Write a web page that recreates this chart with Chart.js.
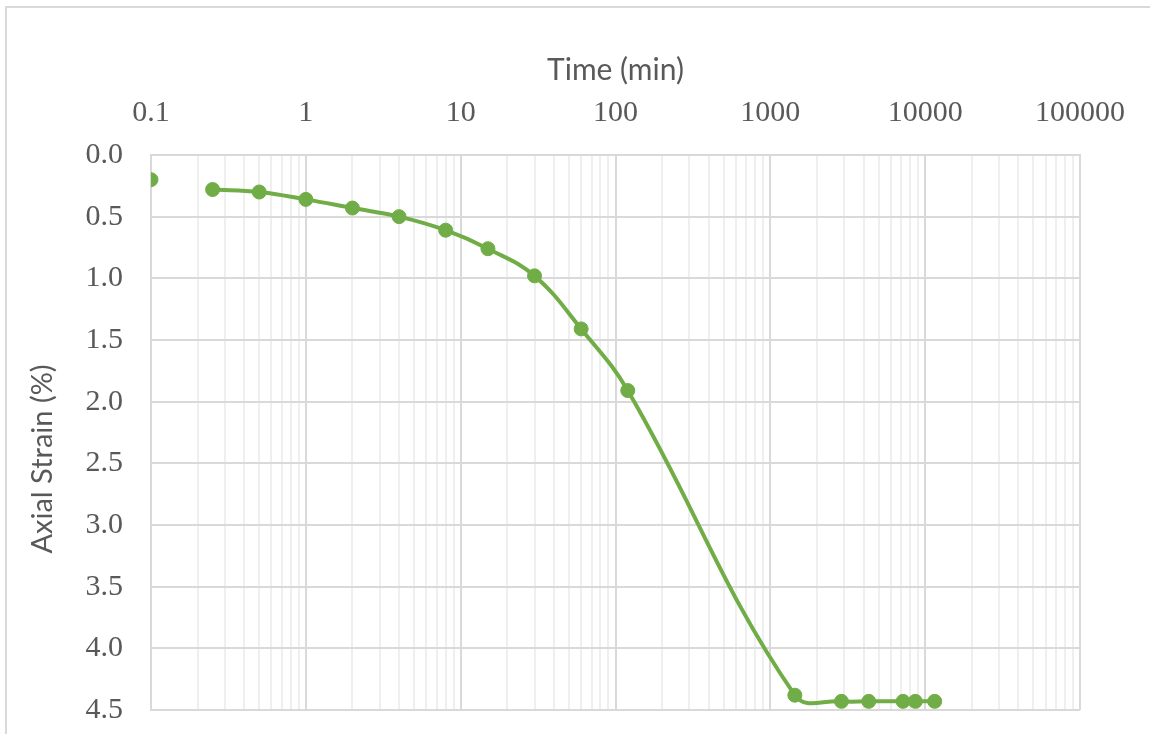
<!DOCTYPE html>
<html>
<head>
<meta charset="utf-8">
<script src="https://cdn.jsdelivr.net/npm/chart.js@4.4.1/dist/chart.umd.min.js"></script>
<style>
  html, body { margin: 0; padding: 0; background: #fff; overflow: hidden; }
  #frame { position: absolute; left: 5px; top: 6px; width: 1160px; height: 760px; border: 2px solid #d9d9d9; }
  #chart { position: absolute; left: 0; top: 0; }
</style>
</head>
<body>
<div id="frame"></div>
<canvas id="chart" width="1150" height="734"></canvas>
<script>
// consolidation reading: time (min) vs axial strain (%)
var timeMin = [0.1, 0.25, 0.5, 1, 2, 4, 8, 15, 30, 60, 120, 1440, 2880, 4320, 7200, 8640, 11520];
var axialStrain = [0.20, 0.28, 0.30, 0.36, 0.43, 0.50, 0.61, 0.76, 0.98, 1.41, 1.91, 4.38, 4.43, 4.43, 4.43, 4.43, 4.43];

var xTickLabels = ['0.1', '1', '10', '100', '1000', '10000', '100000'];

var green = '#70AD47';
var textGrey = '#595959';
var majorGrid = '#d9d9d9';
var minorGrid = '#efefef';

function isDecade(v) {
  var l = Math.log10(v);
  return Math.abs(l - Math.round(l)) < 1e-9;
}

var points = [];
for (var i = 0; i < timeMin.length; i++) {
  points.push({x: timeMin[i], y: axialStrain[i]});
}

// the first reading is not joined to the curve in the original
var datasets = [
  {
    data: points.slice(0, 1),
    showLine: false,
    pointRadius: 7,
    pointBackgroundColor: green,
    pointBorderColor: green,
    pointBorderWidth: 1
  },
  {
    data: points.slice(1),
    showLine: true,
    borderColor: green,
    borderWidth: 4,
    tension: 0.4,
    pointRadius: 7,
    pointBackgroundColor: green,
    pointBorderColor: green,
    pointBorderWidth: 1
  }
];

var yTitle = {
  id: 'yTitle',
  afterDraw: function(chart) {
    var ctx = chart.ctx;
    ctx.save();
    ctx.translate(43, 459);
    ctx.rotate(-Math.PI / 2);
    ctx.font = '29px Lato';
    ctx.fillStyle = textGrey;
    ctx.textAlign = 'center';
    ctx.textBaseline = 'middle';
    ctx.fillText('Axial Strain (%)', 0, 0);
    ctx.restore();
  }
};

new Chart(document.getElementById('chart'), {
  type: 'scatter',
  data: { datasets: datasets },
  plugins: [yTitle],
  options: {
    responsive: false,
    animation: false,
    layout: { padding: { left: 0, top: 0, right: 70, bottom: 24 } },
    plugins: {
      legend: { display: false },
      tooltip: { enabled: false }
    },
    scales: {
      x: {
        type: 'logarithmic',
        position: 'top',
        min: 0.1,
        max: 100000,
        afterBuildTicks: function(scale) {
          var ticks = [];
          for (var d = 0; d < xTickLabels.length; d++) {
            var base = parseFloat(xTickLabels[d]);
            ticks.push({value: base, major: true});
            if (d < xTickLabels.length - 1) {
              for (var m = 2; m <= 9; m++) ticks.push({value: base * m, major: false});
            }
          }
          scale.ticks = ticks;
        },
        afterFit: function(scale) { scale.height = 155; },
        ticks: {
          autoSkip: false,
          maxRotation: 0,
          padding: 24,
          color: textGrey,
          font: { family: 'Liberation Serif', size: 30 },
          callback: function(v) {
            if (!isDecade(v)) return '';
            var idx = Math.round(Math.log10(v)) + 1;
            return xTickLabels[idx];
          }
        },
        grid: {
          drawTicks: false,
          lineWidth: 2,
          color: function(ctx) {
            return ctx.tick && isDecade(ctx.tick.value) ? majorGrid : minorGrid;
          }
        },
        border: { display: true, color: majorGrid, width: 2 },
        title: {
          display: true,
          text: 'Time (min)',
          color: textGrey,
          font: { family: 'Lato', size: 30 },
          padding: { top: 52, bottom: 0 }
        }
      },
      y: {
        type: 'linear',
        reverse: true,
        min: 0,
        max: 4.5,
        afterFit: function(scale) {
          scale.width = 151;
          scale.paddingTop = 0;
          scale.paddingBottom = 0;
        },
        ticks: {
          stepSize: 0.5,
          padding: 28,
          color: textGrey,
          font: { family: 'Liberation Serif', size: 30 },
          callback: function(v) { return v.toFixed(1); }
        },
        grid: {
          drawTicks: false,
          lineWidth: 2,
          color: majorGrid
        },
        border: { display: true, color: majorGrid, width: 2 }
      }
    }
  }
});
</script>
</body>
</html>
